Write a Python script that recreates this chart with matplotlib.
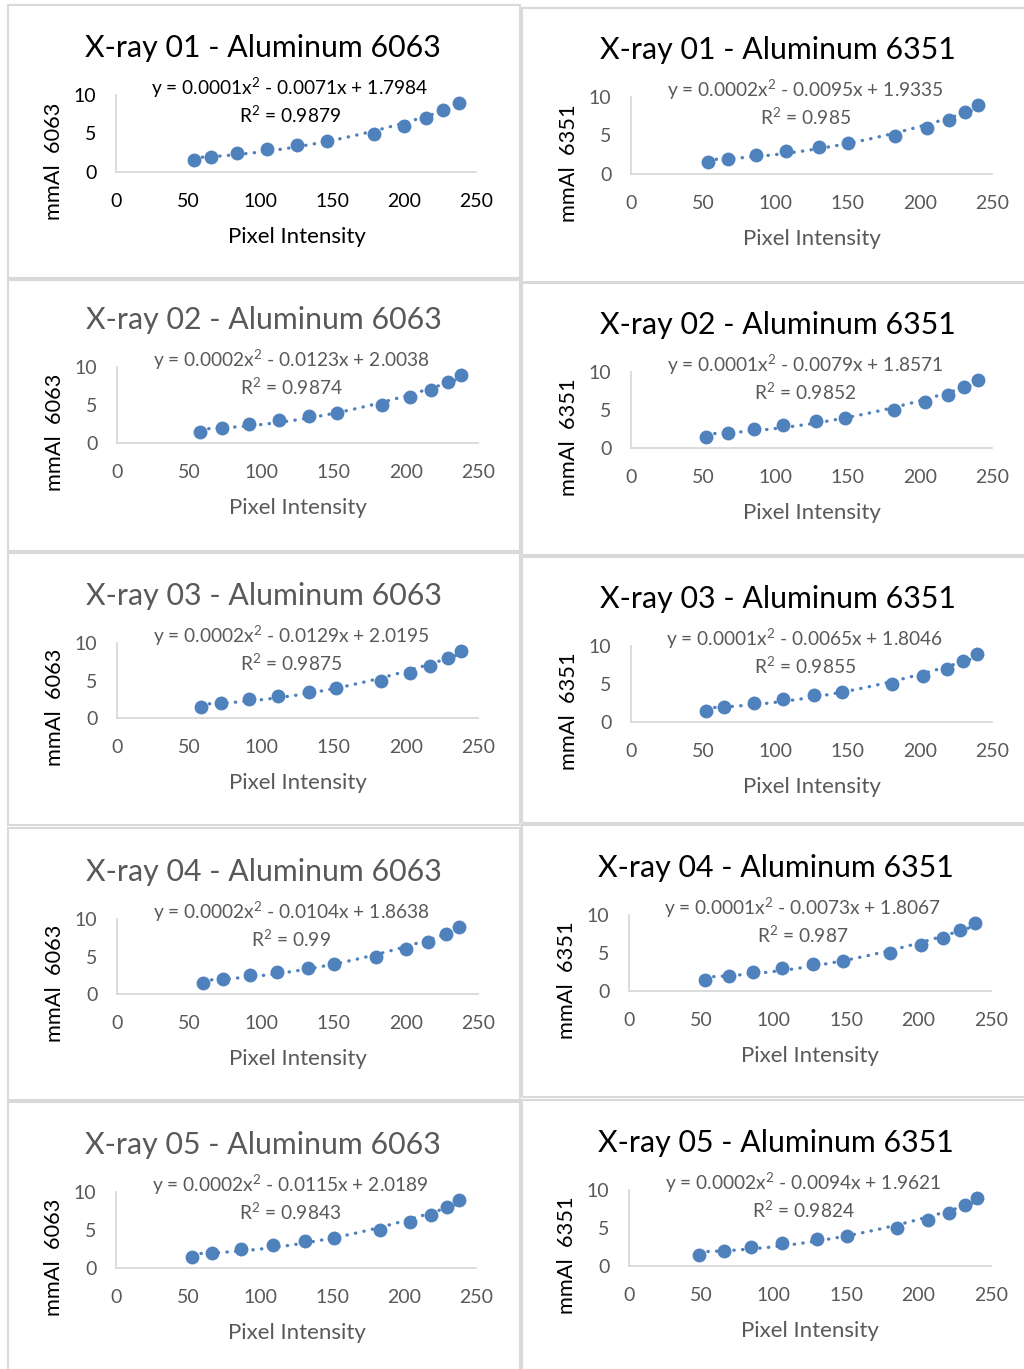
import numpy as np
import matplotlib.pyplot as plt
from matplotlib.patches import Rectangle

plt.rcParams['font.family'] = ['Lato', 'DejaVu Sans']
plt.rcParams['mathtext.fontset'] = 'custom'
plt.rcParams['mathtext.rm'] = 'Lato'
plt.rcParams['mathtext.it'] = 'Lato'

W, H = 1024, 1369

# mmAl thickness steps (same for every x-ray)
MMAL = [1.5, 2, 2.5, 3, 3.5, 4, 5, 6, 7, 8, 9]

# pixel intensity read per panel
px_01_6063 = [54, 66, 84, 105, 126, 146.5, 179, 200, 215, 227, 238]
px_01_6351 = [53, 67.5, 86.5, 107, 130, 150.5, 183, 205, 220, 231, 240.5]
px_02_6063 = [57.5, 73, 91.5, 112, 133, 152.5, 183.5, 203, 217.5, 229.5, 238.5]
px_02_6351 = [52, 67.5, 85.5, 105.5, 128, 148.5, 182, 203.5, 219.5, 230.5, 240]
px_03_6063 = [58, 72, 91.5, 111.5, 133, 152, 182.5, 203, 216.5, 229, 238]
px_03_6351 = [52, 64.5, 85, 105, 127, 146, 181, 202.5, 218.5, 230, 239.5]
px_04_6063 = [59.5, 73.5, 92, 111, 132, 150.5, 179.5, 200, 215.5, 227.5, 237]
px_04_6351 = [52.5, 69, 85.5, 106, 127, 147.5, 180, 201.5, 217, 228.5, 239]
px_05_6063 = [53, 66.5, 87, 109, 131, 151.5, 183.5, 204, 219, 230, 238.5]
px_05_6351 = [48.5, 65.5, 84.5, 106, 129.5, 150.5, 185, 206.5, 221, 232, 240.5]

TITLES = ['X-ray 01 - Aluminum 6063', 'X-ray 01 - Aluminum 6351',
          'X-ray 02 - Aluminum 6063', 'X-ray 02 - Aluminum 6351',
          'X-ray 03 - Aluminum 6063', 'X-ray 03 - Aluminum 6351',
          'X-ray 04 - Aluminum 6063', 'X-ray 04 - Aluminum 6351',
          'X-ray 05 - Aluminum 6063', 'X-ray 05 - Aluminum 6351']
EQUATIONS = ['y = 0.0001x$^2$ - 0.0071x + 1.7984', 'y = 0.0002x$^2$ - 0.0095x + 1.9335',
             'y = 0.0002x$^2$ - 0.0123x + 2.0038', 'y = 0.0001x$^2$ - 0.0079x + 1.8571',
             'y = 0.0002x$^2$ - 0.0129x + 2.0195', 'y = 0.0001x$^2$ - 0.0065x + 1.8046',
             'y = 0.0002x$^2$ - 0.0104x + 1.8638', 'y = 0.0001x$^2$ - 0.0073x + 1.8067',
             'y = 0.0002x$^2$ - 0.0115x + 2.0189', 'y = 0.0002x$^2$ - 0.0094x + 1.9621']
R2 = ['0.9879', '0.985', '0.9874', '0.9852', '0.9875',
      '0.9855', '0.99', '0.987', '0.9843', '0.9824']
YLABELS = ['mmAl  6063', 'mmAl  6351'] * 5
XTICKS = [0, 50, 100, 150, 200, 250]
YTICKS = [0, 5, 10]

PIXELS = [px_01_6063, px_01_6351, px_02_6063, px_02_6351, px_03_6063,
          px_03_6351, px_04_6063, px_04_6351, px_05_6063, px_05_6351]

# plot area in pixels: left, right, top, bottom
AREAS = [(116, 476, 95, 172), (631, 992, 97, 174),
         (117, 478, 367, 443), (631, 992, 372, 448),
         (117, 478, 643, 718), (631, 992, 646, 722),
         (117, 478, 919, 994), (629, 991, 915, 991),
         (116, 476, 1192, 1268), (629, 991, 1190, 1266)]
# panel frames: left, right, top, bottom
FRAMES = [(8, 520, 5, 278), (522, 1030, 8, 282),
          (8, 520, 280, 551), (522, 1030, 283, 555),
          (8, 520, 553, 825), (522, 1030, 557, 823),
          (8, 520, 828, 1100), (522, 1030, 825, 1097),
          (8, 520, 1102, 1375), (522, 1030, 1100, 1375)]

BLUE = '#4F81BD'
GRAY = '#595959'
AXIS = '#D9D9D9'

fig = plt.figure(figsize=(W / 100, H / 100), dpi=100)


def fx(p):
    return p / W


def fy(p):
    return 1 - p / H


for i in range(10):
    fl, fr, ft, fb = FRAMES[i]
    fig.patches.append(Rectangle((fx(fl), fy(fb)), (fr - fl) / W, (fb - ft) / H,
                                 transform=fig.transFigure, fill=False,
                                 edgecolor=AXIS, linewidth=1.5))

    l, r, t, b = AREAS[i]
    ax = fig.add_axes([fx(l), fy(b), (r - l) / W, (b - t) / H])
    txt = 'black' if i == 0 else GRAY
    ttl = 'black' if (i == 0 or i % 2 == 1) else GRAY

    x = np.array(PIXELS[i])
    y = np.array(MMAL)
    c = np.polyfit(x, y, 2)
    xs = np.linspace(x.min(), x.max(), 200)
    ax.plot(xs, np.polyval(c, xs), color=BLUE, linewidth=2.4,
            linestyle=(0, (0.1, 2.5)), dash_capstyle='round', zorder=2)
    ax.scatter(x, y, s=100, color=BLUE, zorder=3, linewidths=0)

    ax.set_xlim(0, 250)
    ax.set_ylim(0, 10)
    ax.set_xticks(XTICKS)
    ax.set_yticks(YTICKS)
    ax.tick_params(length=0, labelsize=14, colors=txt)
    ax.tick_params(axis='x', pad=15)
    ax.tick_params(axis='y', pad=14)
    for s in ['top', 'right']:
        ax.spines[s].set_visible(False)
    for s in ['left', 'bottom']:
        ax.spines[s].set_color(AXIS)
        ax.spines[s].set_linewidth(1.3)
    ax.patch.set_alpha(0)

    fig.text(fx(l + 147), fy(t - 47), TITLES[i], fontsize=21.8, color=ttl,
             ha='center', va='center')
    fig.text(fx(l + 174), fy(t - 7), EQUATIONS[i], fontsize=13.8, color=txt,
             ha='center', va='center')
    fig.text(fx(l + 174), fy(t + 20), 'R$^2$ = ' + R2[i], fontsize=13.8, color=txt,
             ha='center', va='center')
    fig.text(fx(l + 181), fy(b + 65), 'Pixel Intensity', fontsize=16, color=txt,
             ha='center', va='center')
    fig.text(fx(l - 62), fy(b - 11), YLABELS[i], fontsize=15.7, color='black',
             ha='center', va='center', rotation=90)

fig.savefig('out.png', dpi=100)
